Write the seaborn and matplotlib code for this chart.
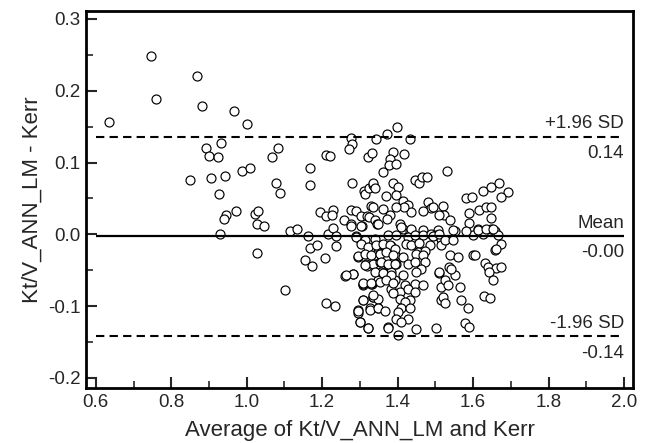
import numpy as np
import pandas as pd
import seaborn as sns
import matplotlib
matplotlib.use("Agg")
import matplotlib.pyplot as plt
from matplotlib.ticker import MultipleLocator

# Bland-Altman points (average, difference)
avg_left = [0.635, 0.745, 0.759, 0.868, 0.882, 0.967, 1.001, 0.893, 0.899, 0.924, 0.933, 0.851, 0.905, 0.942,
            0.988, 1.008, 0.926, 1.067, 1.084, 1.077, 1.087, 1.169, 1.169, 1.210, 1.222, 0.944, 0.939, 0.971,
            1.021, 1.031, 1.027, 1.046, 0.928, 1.028, 1.101, 1.116, 1.132, 1.162, 1.193, 1.211, 1.230, 1.227,
            1.215, 1.230, 1.238, 1.154, 1.173, 1.169, 1.186, 1.207, 1.238, 1.211, 1.233]
diff_left = [0.157, 0.248, 0.188, 0.221, 0.179, 0.172, 0.153, 0.120, 0.109, 0.108, 0.127, 0.075, 0.079, 0.081,
             0.088, 0.093, 0.056, 0.108, 0.120, 0.072, 0.057, 0.092, 0.068, 0.111, 0.109, 0.027, 0.021, 0.032,
             0.028, 0.032, 0.014, 0.012, 0.001, -0.026, -0.078, 0.005, 0.008, -0.002, 0.031, 0.025, 0.034, 0.027,
             0.001, 0.009, -0.002, -0.036, -0.044, -0.019, -0.015, -0.033, -0.016, -0.096, -0.100]

avg_mid = [1.277, 1.278, 1.270, 1.278, 1.321, 1.332, 1.342, 1.311, 1.314, 1.323, 1.335, 1.258, 1.277, 1.289,
           1.304, 1.320, 1.277, 1.305, 1.323, 1.340, 1.330, 1.290,
           1.261, 1.283, 1.295, 1.308, 1.332, 1.319, 1.304, 1.324, 1.295, 1.295, 1.300, 1.322, 1.308, 1.335,
           1.326, 1.348, 1.374, 1.401]
diff_mid = [0.134, 0.126, 0.119, 0.072, 0.107, 0.113, 0.133, 0.061, 0.056, 0.064, 0.068, 0.020, 0.034, 0.032,
            0.026, 0.025, 0.015, 0.012, 0.024, 0.020, 0.039, -0.003,
            -0.058, -0.055, -0.031, -0.070, -0.069, -0.044, -0.010, -0.020, -0.106, -0.110, -0.122, -0.131,
            -0.092, -0.087, -0.103, -0.103, -0.129, -0.140]

avg_upper = [1.372, 1.398, 1.432, 1.388, 1.381, 1.377, 1.397, 1.362, 1.417, 1.445, 1.458, 1.464, 1.477, 1.335,
             1.340, 1.388, 1.402, 1.397, 1.368, 1.414, 1.427, 1.436, 1.417, 1.335, 1.362, 1.379, 1.371, 1.397,
             1.345, 1.480, 1.489, 1.467, 1.405, 1.414, 1.432]
diff_upper = [0.140, 0.149, 0.133, 0.115, 0.105, 0.096, 0.098, 0.087, 0.112, 0.075, 0.072, 0.080, 0.080, 0.071,
              0.064, 0.072, 0.066, 0.055, 0.053, 0.047, 0.041, 0.031, 0.038, 0.038, 0.035, 0.027, 0.022, 0.038,
              0.015, 0.045, 0.037, 0.032, 0.015, 0.008, 0.004]

avg_dense = [1.277, 1.304, 1.348, 1.410, 1.436, 1.467, 1.507,
             1.291, 1.313, 1.339, 1.374, 1.396, 1.427, 1.445, 1.467, 1.489, 1.502, 1.516,
             1.304, 1.326, 1.361, 1.383, 1.423, 1.436, 1.458, 1.485, 1.454, 1.472, 1.516,
             1.295, 1.339, 1.357, 1.370, 1.392, 1.414, 1.449, 1.467,
             1.317, 1.335, 1.352, 1.374, 1.396, 1.427, 1.445, 1.472, 1.463,
             1.282, 1.357, 1.383, 1.414, 1.449, 1.511,
             1.308, 1.330, 1.348, 1.370, 1.392, 1.419, 1.445, 1.467,
             1.383, 1.405, 1.427, 1.445, 1.516,
             1.308, 1.335, 1.348, 1.405, 1.432, 1.419, 1.516,
             1.295, 1.326, 1.348, 1.366, 1.410, 1.432, 1.401,
             1.299, 1.396, 1.427, 1.410,
             1.321, 1.374, 1.449, 1.264]
diff_dense = [0.012, 0.011, 0.014, 0.010, 0.008, 0.006, 0.006,
              -0.004, -0.008, -0.006, -0.001, -0.001, -0.004, -0.001, -0.001, 0.001, -0.001, -0.006,
              -0.013, -0.019, -0.015, -0.016, -0.013, -0.015, -0.012, -0.015, -0.024, -0.023, -0.015,
              -0.030, -0.029, -0.027, -0.032, -0.029, -0.032, -0.027, -0.029,
              -0.042, -0.041, -0.038, -0.043, -0.042, -0.041, -0.039, -0.038, -0.048,
              -0.055, -0.053, -0.053, -0.057, -0.053, -0.054,
              -0.069, -0.069, -0.064, -0.062, -0.064, -0.071, -0.069, -0.070,
              -0.076, -0.081, -0.076, -0.081, -0.074,
              -0.092, -0.087, -0.090, -0.090, -0.091, -0.094, -0.092,
              -0.107, -0.105, -0.103, -0.107, -0.103, -0.102, -0.108,
              -0.122, -0.118, -0.118, -0.122,
              -0.131, -0.130, -0.132, -0.057]

# extra overlapping circles in the densest part of the cloud
avg_core = [1.321, 1.344, 1.361, 1.379, 1.392, 1.313, 1.330, 1.352, 1.370, 1.388,
            1.313, 1.357, 1.374, 1.392, 1.339, 1.361, 1.383, 1.308, 1.330, 1.352,
            1.370, 1.388, 1.388, 1.335]
diff_core = [-0.017, -0.015, -0.013, -0.015, -0.020, -0.027, -0.029, -0.027, -0.024, -0.029,
             -0.043, -0.038, -0.041, -0.041, -0.052, -0.054, -0.057, -0.068, -0.068, -0.066,
             -0.064, -0.068, -0.082, -0.085]

avg_right = [1.531, 1.580, 1.598, 1.626, 1.648, 1.670, 1.692, 1.675,
             1.494, 1.520, 1.522, 1.510, 1.538, 1.589, 1.589, 1.617, 1.633, 1.648, 1.648,
             1.613, 1.600, 1.626, 1.648, 1.657, 1.666, 1.675,
             1.494, 1.510, 1.525, 1.547, 1.551, 1.547,
             1.540, 1.560, 1.600, 1.631, 1.639, 1.657, 1.661, 1.675, 1.642, 1.653,
             1.511, 1.525, 1.533, 1.566, 1.569, 1.586, 1.520, 1.525,
             1.630, 1.644, 1.502, 1.578, 1.589,
             1.551, 1.536, 1.542, 1.661, 1.582, 1.613, 1.635, 1.653, 1.604]
diff_right = [0.088, 0.050, 0.052, 0.061, 0.066, 0.072, 0.059, 0.052,
              0.038, 0.039, 0.027, 0.027, 0.020, 0.029, 0.016, 0.034, 0.038, 0.038, 0.023,
              0.008, -0.001, 0.001, 0.008, 0.005, -0.001, -0.013,
              -0.003, 0.001, -0.008, -0.008, 0.004, 0.006,
              -0.029, -0.032, -0.029, -0.040, -0.045, -0.022, -0.047, -0.045, -0.053, -0.064,
              -0.053, -0.064, -0.071, -0.074, -0.091, -0.103, -0.087, -0.096,
              -0.086, -0.088, -0.130, -0.123, -0.129,
              -0.057, -0.045, -0.048, -0.020, 0.004, 0.006, 0.008, 0.008, -0.029]

mean_diff = -0.002
upper_loa = 0.136
lower_loa = -0.142
line_labels = [("+1.96 SD", "0.14"), ("Mean", "-0.00"), ("-1.96 SD", "-0.14")]

df = pd.DataFrame({
    "avg": avg_left + avg_mid + avg_upper + avg_dense + avg_core + avg_right,
    "diff": diff_left + diff_mid + diff_upper + diff_dense + diff_core + diff_right,
})

sns.set_style("ticks")
plt.rcParams["font.family"] = ["Liberation Sans", "DejaVu Sans"]

fig = plt.figure(figsize=(6.48, 4.43), dpi=100)
ax = fig.add_axes([0.1327, 0.1242, 0.8442, 0.851])

sns.scatterplot(data=df, x="avg", y="diff", ax=ax, s=42, marker="o",
                facecolor="white", edgecolor="black", linewidth=0.85, zorder=2)

x0, x1 = 0.6, 2.0
ax.hlines(mean_diff, x0, x1, colors="black", linewidth=1.6, zorder=3)
ax.hlines([upper_loa, lower_loa], x0, x1, colors="black", linewidth=1.5,
          linestyles=(0, (4, 2.5)), zorder=3)

for yv, (top, bottom) in zip([upper_loa, mean_diff, lower_loa], line_labels):
    ax.annotate(top, (x1, yv), xytext=(0, 3), textcoords="offset points",
                ha="right", va="bottom", fontsize=13.5)
    ax.annotate(bottom, (x1, yv), xytext=(0, -6), textcoords="offset points",
                ha="right", va="top", fontsize=13.5)

ax.set_xlim(0.574, 2.024)
ax.set_ylim(-0.214, 0.311)
ax.xaxis.set_minor_locator(MultipleLocator(0.1))
ax.yaxis.set_minor_locator(MultipleLocator(0.05))
ax.set_xticks(np.arange(0.6, 2.01, 0.2))
ax.set_xticklabels(["0.6", "0.8", "1.0", "1.2", "1.4", "1.6", "1.8", "2.0"])
ax.set_yticks(np.arange(-0.2, 0.31, 0.1))
ax.set_yticklabels(["-0.2", "-0.1", "0.0", "0.1", "0.2", "0.3"])
ax.tick_params(which="major", direction="in", length=8, width=1.5, labelsize=13.5, pad=4)
ax.tick_params(which="minor", direction="in", length=5, width=1.2)
for sp in ax.spines.values():
    sp.set_linewidth(2)
    sp.set_color("black")

ax.set_xlabel("Average of Kt/V_ANN_LM and Kerr", fontsize=16, labelpad=7)
ax.set_ylabel("Kt/V_ANN_LM - Kerr", fontsize=16, labelpad=4)

fig.savefig("out.png", dpi=100)
